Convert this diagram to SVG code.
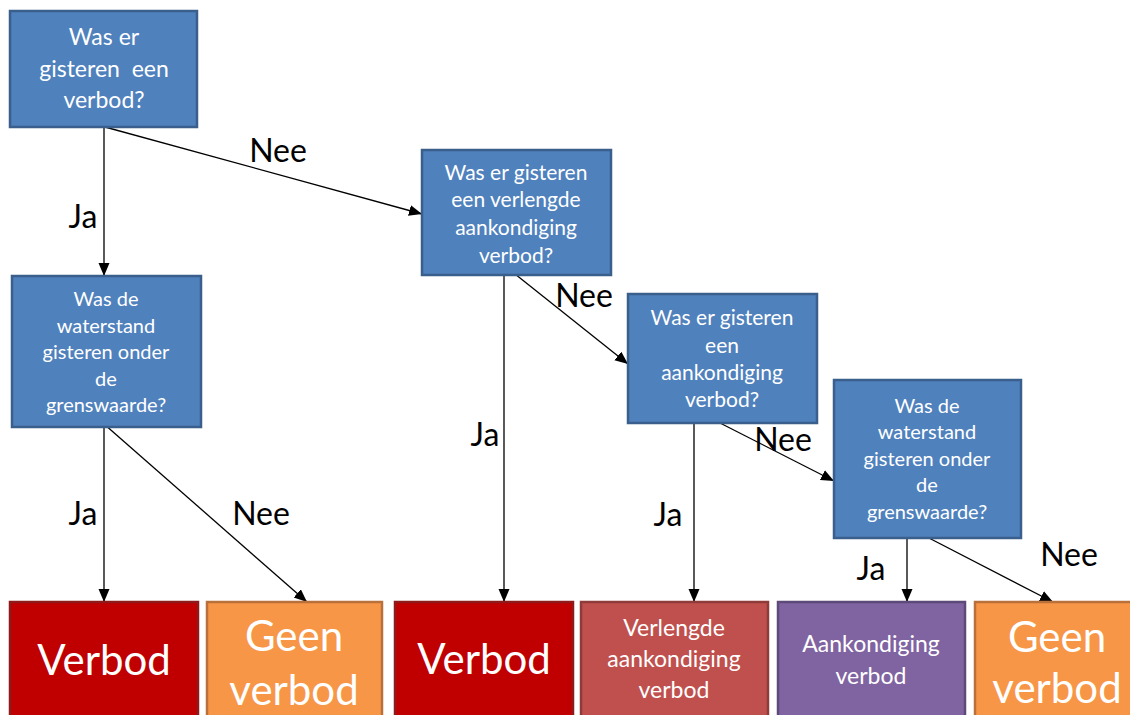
<svg xmlns="http://www.w3.org/2000/svg" width="1130" height="715" viewBox="0 0 1130 715">
<style>
.q{fill:#4F81BD;stroke:#3A5F8C;stroke-width:2.5}
.qt{fill:#fff;font-family:Lato,"Open Sans",sans-serif;text-anchor:middle}
.lbl{fill:#000;font-family:Lato,"Open Sans",sans-serif;font-size:32px;text-anchor:middle}
.c{stroke:#000;stroke-width:1.3;fill:none;marker-end:url(#ah)}
.big{fill:#fff;font-family:Lato,"Open Sans",sans-serif;font-size:42px;text-anchor:middle}
.med{fill:#fff;font-family:Lato,"Open Sans",sans-serif;font-size:23px;text-anchor:middle}
</style>
<defs>
<marker id="ah" markerUnits="userSpaceOnUse" markerWidth="14" markerHeight="12" refX="13" refY="5.5" orient="auto">
<path d="M0,0 L13,5.5 L0,11 z" fill="#000"/>
</marker>
</defs>
<rect width="1130" height="715" fill="#fff"/>

<g id="connectors">
<line class="c" x1="104" y1="127" x2="104" y2="276"/>
<line class="c" x1="105" y1="127" x2="422" y2="214"/>
<line class="c" x1="104" y1="427" x2="104" y2="602"/>
<line class="c" x1="104" y1="424" x2="307" y2="602"/>
<line class="c" x1="504" y1="275" x2="504" y2="602"/>
<line class="c" x1="515" y1="274" x2="628" y2="364"/>
<line class="c" x1="694" y1="423" x2="694" y2="602"/>
<line class="c" x1="720" y1="423" x2="834" y2="481"/>
<line class="c" x1="907" y1="538" x2="907" y2="602"/>
<line class="c" x1="927" y1="537" x2="1053" y2="602"/>
<text class="lbl" x="83" y="228">Ja</text>
<text class="lbl" x="278" y="162">Nee</text>
<text class="lbl" x="83" y="525">Ja</text>
<text class="lbl" x="261" y="525">Nee</text>
<text class="lbl" x="485" y="446">Ja</text>
<text class="lbl" x="584" y="307">Nee</text>
<text class="lbl" x="668" y="526">Ja</text>
<text class="lbl" x="783" y="451">Nee</text>
<text class="lbl" x="871" y="580">Ja</text>
<text class="lbl" x="1069" y="566">Nee</text>
</g>

<g id="q1">
<rect class="q" x="10" y="11" width="187" height="116"/>
<text class="qt" font-size="23" x="104"><tspan x="104" y="45">Was er</tspan><tspan x="104" y="77">gisteren&#160; een</tspan><tspan x="104" y="108">verbod?</tspan></text>
</g>
<g id="q2">
<rect class="q" x="12" y="276" width="189" height="151"/>
<text class="qt" font-size="20" x="106"><tspan x="106" y="306">Was de</tspan><tspan x="106" y="333">waterstand</tspan><tspan x="106" y="359">gisteren onder</tspan><tspan x="106" y="386">de</tspan><tspan x="106" y="412">grenswaarde?</tspan></text>
</g>
<g id="q3">
<rect class="q" x="422" y="150" width="189" height="125"/>
<text class="qt" font-size="21" x="516"><tspan x="516" y="180">Was er gisteren</tspan><tspan x="516" y="207">een verlengde</tspan><tspan x="516" y="235">aankondiging</tspan><tspan x="516" y="263">verbod?</tspan></text>
</g>
<g id="q4">
<rect class="q" x="628" y="294" width="189" height="129"/>
<text class="qt" font-size="21" x="722"><tspan x="722" y="325">Was er gisteren</tspan><tspan x="722" y="353">een</tspan><tspan x="722" y="380">aankondiging</tspan><tspan x="722" y="407">verbod?</tspan></text>
</g>
<g id="q5">
<rect class="q" x="834" y="380" width="187" height="158"/>
<text class="qt" font-size="20" x="927"><tspan x="927" y="413">Was de</tspan><tspan x="927" y="439">waterstand</tspan><tspan x="927" y="466">gisteren onder</tspan><tspan x="927" y="492">de</tspan><tspan x="927" y="519">grenswaarde?</tspan></text>
</g>

<g id="r1">
<rect x="10" y="602" width="188" height="130" fill="#C00000" stroke="#8E1B1B" stroke-width="2.5"/>
<text class="big" x="104" y="675">Verbod</text>
</g>
<g id="r2">
<rect x="207" y="602" width="175" height="130" fill="#F79646" stroke="#B9703A" stroke-width="2.5"/>
<text class="big" x="294"><tspan x="294" y="651">Geen</tspan><tspan x="294" y="705">verbod</tspan></text>
</g>
<g id="r3">
<rect x="395" y="602" width="178" height="130" fill="#C00000" stroke="#8E1B1B" stroke-width="2.5"/>
<text class="big" x="484" y="674">Verbod</text>
</g>
<g id="r4">
<rect x="581" y="602" width="187" height="130" fill="#C0504D" stroke="#8E3B39" stroke-width="2.5"/>
<text class="med" x="674"><tspan x="674" y="636">Verlengde</tspan><tspan x="674" y="667">aankondiging</tspan><tspan x="674" y="698">verbod</tspan></text>
</g>
<g id="r5">
<rect x="778" y="602" width="187" height="130" fill="#8064A2" stroke="#5D4A78" stroke-width="2.5"/>
<text class="med" x="871"><tspan x="871" y="652">Aankondiging</tspan><tspan x="871" y="684">verbod</tspan></text>
</g>
<g id="r6">
<rect x="975" y="602" width="170" height="130" fill="#F79646" stroke="#B9703A" stroke-width="2.5"/>
<text class="big" x="1057"><tspan x="1057" y="652">Geen</tspan><tspan x="1057" y="703">verbod</tspan></text>
</g>
</svg>
